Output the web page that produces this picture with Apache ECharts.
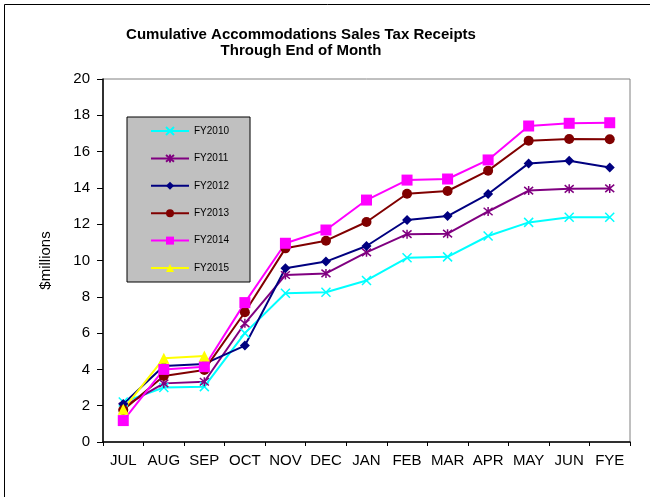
<!DOCTYPE html>
<html>
<head>
<meta charset="utf-8">
<script src="https://cdn.jsdelivr.net/npm/echarts@6/dist/echarts.min.js"></script>
<style>
  html, body { margin: 0; padding: 0; background: #fff; }
  #chart { width: 650px; height: 497px; }
</style>
</head>
<body>
<div id="chart"></div>
<script>
// month labels on the x axis
var months = ['JUL', 'AUG', 'SEP', 'OCT', 'NOV', 'DEC', 'JAN', 'FEB', 'MAR', 'APR', 'MAY', 'JUN', 'FYE'];
var yTicks = [0, 2, 4, 6, 8, 10, 12, 14, 16, 18, 20];

// cumulative receipts, $ millions
var fy2010 = [2.2, 3.0, 3.05, 6.0, 8.2, 8.25, 8.9, 10.15, 10.2, 11.35, 12.1, 12.38, 12.38];
var fy2011 = [1.95, 3.23, 3.32, 6.54, 9.2, 9.29, 10.45, 11.45, 11.48, 12.7, 13.85, 13.95, 13.97];
var fy2012 = [2.1, 4.19, 4.3, 5.31, 9.57, 9.94, 10.8, 12.23, 12.45, 13.66, 15.35, 15.5, 15.12];
var fy2013 = [1.76, 3.64, 3.97, 7.15, 10.67, 11.09, 12.12, 13.68, 13.83, 14.95, 16.6, 16.69, 16.68];
var fy2014 = [1.18, 4.0, 4.15, 7.68, 10.95, 11.68, 13.33, 14.43, 14.49, 15.54, 17.41, 17.56, 17.59];
var fy2015 = [1.8, 4.61, 4.74];

var chart = echarts.init(document.getElementById('chart'));

// 画线系列，路径符号要靠描边才看得见
function line(name, data, color, symbol, size) {
  return {
    name: name,
    type: 'line',
    data: data,
    symbol: symbol,
    symbolSize: size,
    showSymbol: true,
    lineStyle: { color: color, width: 2 },
    itemStyle: { color: color, borderColor: color, borderWidth: symbol.indexOf('path') === 0 ? 1.5 : 0 },
    emphasis: { disabled: true },
    animation: false
  };
}

chart.setOption({
  textStyle: { fontFamily: 'Liberation Sans, Arial, sans-serif', color: '#000' },
  title: {
    text: 'Cumulative Accommodations Sales Tax Receipts\nThrough End of Month',
    left: 296,
    top: 22,
    textAlign: 'center',
    textStyle: { fontSize: 15, fontWeight: 'bold', lineHeight: 16, color: '#000' }
  },
  graphic: [{
    type: 'rect',
    shape: { x: 4.5, y: 4.5, width: 700, height: 600 },
    style: { fill: 'none', stroke: '#000', lineWidth: 1 },
    silent: true
  }],
  legend: {
    orient: 'vertical',
    left: 127,
    top: 117,
    width: 122,
    padding: [9, 21, 9, 23],
    itemGap: 17.4,
    itemWidth: 38,
    itemHeight: 10,
    backgroundColor: '#c0c0c0',
    borderColor: '#000',
    borderWidth: 1,
    textStyle: { fontSize: 10, color: '#000' },
    data: ['FY2010', 'FY2011', 'FY2012', 'FY2013', 'FY2014', 'FY2015']
  },
  grid: {
    left: 103, right: 20, top: 79, bottom: 55,
    show: true, borderColor: '#808080', borderWidth: 1, backgroundColor: '#fff'
  },
  xAxis: {
    type: 'category',
    data: months,
    boundaryGap: true,
    axisLine: { lineStyle: { color: '#000', width: 1.5 } },
    axisTick: { show: true, length: 4, alignWithLabel: false, lineStyle: { color: '#000' } },
    axisLabel: { fontSize: 15, color: '#000', margin: 11, interval: 0 },
    splitLine: { show: false }
  },
  yAxis: {
    type: 'value',
    min: yTicks[0],
    max: yTicks[yTicks.length - 1],
    interval: 2,
    name: '$millions',
    nameLocation: 'middle',
    nameGap: 50,
    nameTextStyle: { fontSize: 15, color: '#000' },
    axisLine: { show: true, lineStyle: { color: '#000', width: 1.5 } },
    axisTick: { show: true, length: 6, lineStyle: { color: '#000' } },
    axisLabel: { fontSize: 15, color: '#000', margin: 13 },
    splitLine: { show: false }
  },
  series: [
    line('FY2010', fy2010, '#00ffff', 'path://M0,0L10,10M10,0L0,10', 9),
    line('FY2011', fy2011, '#800080', 'path://M0,0L10,10M10,0L0,10M5,-1L5,11', 9),
    line('FY2012', fy2012, '#000080', 'diamond', 10),
    line('FY2013', fy2013, '#800000', 'circle', 10),
    line('FY2014', fy2014, '#ff00ff', 'rect', 11),
    line('FY2015', fy2015, '#ffff00', 'triangle', 11)
  ]
});
</script>
</body>
</html>
